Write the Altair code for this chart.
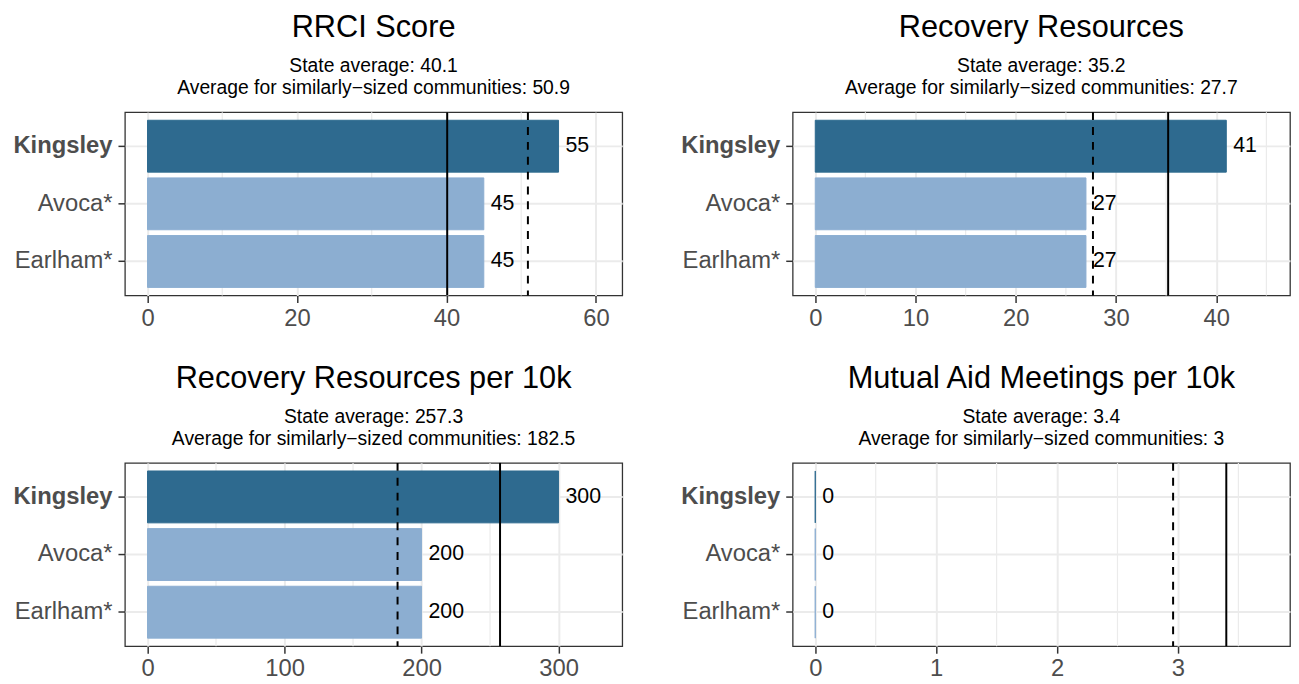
import altair as alt
import pandas as pd

communities = ["Kingsley", "Avoca*", "Earlham*"]
highlight = "Kingsley"

titles = ["RRCI Score", "Recovery Resources", "Recovery Resources per 10k",
          "Mutual Aid Meetings per 10k"]
rrci = [55, 45, 45]
resources = [41, 27, 27]
resources_10k = [300, 200, 200]
mutual_aid_10k = [0, 0, 0]
state_avg = [40.1, 35.2, 257.3, 3.4]
similar_avg = [50.9, 27.7, 182.5, 2.96]
major_ticks = [[0, 20, 40, 60], [0, 10, 20, 30, 40], [0, 100, 200, 300], [0, 1, 2, 3]]
minor_ticks = [[10, 30, 50], [5, 15, 25, 35, 45], [50, 150, 250], [0.5, 1.5, 2.5, 3.5]]

series = [rrci, resources, resources_10k, mutual_aid_10k]

DARK = "#2E6A8F"
LIGHT = "#8CAED1"
FONT = "Liberation Sans"
GRID = "#EBEBEB"
W, H = 502, 185


def fmt(v):
    r = round(v, 1)
    return f"{r:g}"


def panel(i):
    values = series[i]
    df = pd.DataFrame({"community": communities, "value": values,
                       "label": [fmt(v) for v in values]})
    lim = max(list(values) + [state_avg[i], similar_avg[i]]) * 1.1
    xs = alt.Scale(domain=[-0.05 * lim, 1.05 * lim], nice=False, zero=False)
    ys = alt.Scale(paddingInner=0.1, paddingOuter=0.14)
    yaxis = alt.Axis(
        title=None, labelFontSize=24, labelColor="#4D4D4D", labelFont=FONT,
        labelFontWeight={"condition": {"test": f"datum.value === '{highlight}'", "value": "bold"},
                         "value": "normal"},
        tickSize=7, tickColor="#333333", tickWidth=1.5, labelPadding=6,
        grid=True, gridColor=GRID, gridWidth=2, domain=False, bandPosition=0.5,
        minExtent=116.5)
    xaxis = alt.Axis(
        title=None, values=major_ticks[i], format="d", labelFontSize=24,
        labelColor="#4D4D4D", labelFont=FONT, tickSize=7, tickColor="#333333",
        tickWidth=1.5, labelPadding=4, grid=True, gridColor=GRID, gridWidth=2,
        domain=False)
    y = alt.Y("community:N", sort=communities, scale=ys, axis=yaxis)
    cscale = alt.Scale(domain=communities,
                       range=[DARK if c == highlight else LIGHT for c in communities])

    minor = alt.Chart(pd.DataFrame({"m": minor_ticks[i]})).mark_rule(
        color=GRID, strokeWidth=1.2).encode(x=alt.X("m:Q", scale=xs, axis=xaxis))
    bars = alt.Chart(df).mark_bar(strokeWidth=1).encode(
        x=alt.X("value:Q", scale=xs, axis=xaxis),
        y=y,
        color=alt.Color("community:N", scale=cscale, legend=None),
        stroke=alt.Stroke("community:N", scale=cscale, legend=None),
    )
    state = alt.Chart(pd.DataFrame({"a": [state_avg[i]]})).mark_rule(
        color="black", strokeWidth=2).encode(x=alt.X("a:Q", scale=xs, axis=xaxis))
    sim = alt.Chart(pd.DataFrame({"s": [similar_avg[i]]})).mark_rule(
        color="black", strokeWidth=2, strokeDash=[8, 7]).encode(
        x=alt.X("s:Q", scale=xs, axis=xaxis))
    text = alt.Chart(df).mark_text(align="left", baseline="middle", dx=7, fontSize=21.5,
                                   font=FONT, color="black").encode(
        x=alt.X("value:Q", scale=xs, axis=xaxis), y=y, text="label:N")

    title = alt.TitleParams(
        text=titles[i],
        subtitle=[f"State average: {fmt(state_avg[i])}",
                  f"Average for similarly\u2212sized communities: {fmt(similar_avg[i])}"],
        fontSize=31, subtitleFontSize=19.5, font=FONT, subtitleFont=FONT,
        fontWeight="normal", color="black", subtitleColor="black",
        anchor="middle", frame="group", offset=13, subtitlePadding=13,
        subtitleLineHeight=22)
    return alt.layer(minor, bars, state, sim, text).properties(
        width=W, height=H, title=title)


row1 = alt.hconcat(panel(0), panel(1), spacing=53)
row2 = alt.hconcat(panel(2), panel(3), spacing=53)
chart = alt.vconcat(row1, row2, spacing=31).properties(
    padding={"left": 0, "top": 0, "right": 0, "bottom": 0}
).configure_view(stroke="#333333", strokeWidth=1.3)

chart.save("out.html", embed_options={"renderer": "svg", "actions": False})
